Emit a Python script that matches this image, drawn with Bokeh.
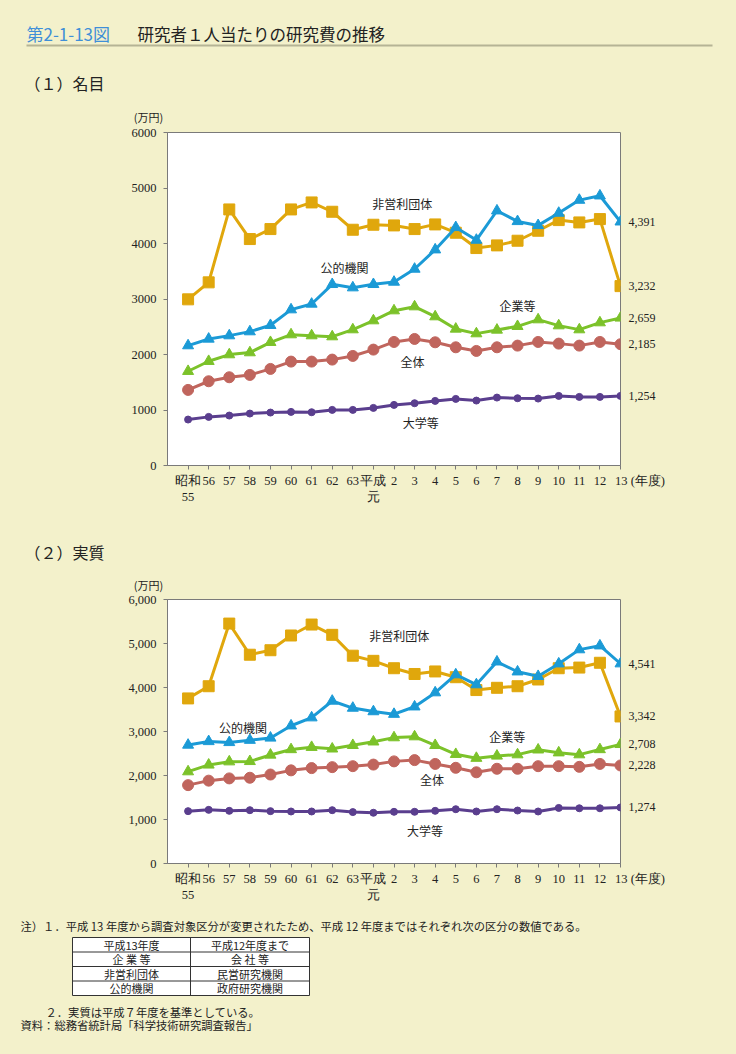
from bokeh.plotting import figure
from bokeh.layouts import column, row
from bokeh.models import Range1d, FixedTicker, NumeralTickFormatter, LinearAxis
from bokeh.core.properties import value
from bokeh.embed import file_html
from bokeh.resources import INLINE

# ---------------- data ----------------
years = ["昭和\n55", "56", "57", "58", "59", "60", "61", "62", "63", "平成\n元",
         "2", "3", "4", "5", "6", "7", "8", "9", "10", "11", "12", "13"]
unit_x = "(年度)"

# (1) 名目
zentai1 = [1362, 1518, 1590, 1632, 1740, 1872, 1872, 1908, 1974, 2088, 2226,
           2280, 2220, 2130, 2064, 2130, 2160, 2226, 2196, 2160, 2226, 2185]
kigyo1 = [1698, 1878, 1998, 2034, 2220, 2358, 2340, 2322, 2448, 2610, 2790,
          2862, 2682, 2460, 2376, 2442, 2508, 2628, 2520, 2448, 2574, 2659]
hieiri1 = [2994, 3300, 4614, 4080, 4260, 4614, 4740, 4572, 4248, 4338, 4326,
           4260, 4344, 4194, 3918, 3966, 4050, 4230, 4422, 4380, 4440, 3232]
koteki1 = [2160, 2280, 2340, 2412, 2526, 2808, 2910, 3264, 3204, 3264, 3306,
           3540, 3888, 4290, 4062, 4590, 4398, 4326, 4548, 4782, 4860, 4391]
daigaku1 = [828, 876, 900, 936, 954, 966, 960, 1002, 1002, 1038, 1092,
            1122, 1164, 1200, 1170, 1224, 1212, 1206, 1254, 1236, 1236, 1254]

# (2) 実質
zentai2 = [1781, 1883, 1934, 1949, 2022, 2117, 2168, 2190, 2212, 2248, 2321,
           2350, 2263, 2175, 2073, 2153, 2153, 2212, 2212, 2197, 2263, 2228]
kigyo2 = [2088, 2241, 2314, 2321, 2467, 2591, 2642, 2606, 2686, 2766, 2861,
          2883, 2686, 2482, 2394, 2445, 2474, 2584, 2518, 2474, 2591, 2708]
hieiri2 = [3752, 4029, 5453, 4745, 4847, 5182, 5431, 5197, 4723, 4606, 4438,
           4307, 4365, 4234, 3942, 3993, 4029, 4182, 4438, 4453, 4562, 3342]
koteki2 = [2693, 2774, 2752, 2803, 2854, 3131, 3314, 3693, 3533, 3453, 3394,
           3562, 3883, 4292, 4066, 4584, 4358, 4255, 4540, 4861, 4949, 4541]
daigaku2 = [1190, 1219, 1197, 1212, 1190, 1182, 1182, 1212, 1168, 1153, 1175,
            1175, 1197, 1234, 1182, 1234, 1204, 1182, 1263, 1255, 1255, 1274]

yticks = [0, 1000, 2000, 3000, 4000, 5000, 6000]
series_names = ["大学等", "全体", "企業等", "非営利団体", "公的機関"]
# label positions (x index, y value) for the series names
name_pos1 = [(11.3, 775), (10.9, 1873), (16.0, 2883), (10.4, 4720), (7.6, 3567)]
name_pos2 = [(11.5, 753), (11.85, 1911), (15.5, 2897), (10.25, 5174), (2.67, 3094)]

table_rows = [("平成13年度", "平成12年度まで"), ("企 業 等", "会 社 等"),
              ("非営利団体", "民営研究機関"), ("公的機関", "政府研究機関")]

# ---------------- style ----------------
W = 736
BG = "#f3f1cb"
JP = value("Noto Sans CJK JP")
SERIF = "Liberation Serif"
COLORS = ["#5a3e8e", "#c0655d", "#7cc22a", "#e0a70c", "#1b9ad6"]
MARKERS = ["circle", "circle", "triangle", "square", "triangle"]
MSIZE = [7, 11, 11, 11, 11]
GREY = "#7a7a7a"
INK = "#222222"
BGSTYLE = {"background-color": BG}


def canvas(h):
    f = figure(width=W, height=h, x_range=Range1d(0, W), y_range=Range1d(h, 0),
               x_axis_type=None, y_axis_type=None, output_backend="svg",
               toolbar_location=None, min_border=0)
    f.grid.visible = False
    f.outline_line_color = None
    f.background_fill_color = BG
    f.border_fill_color = BG
    f.styles = BGSTYLE
    return f


def txt(f, x, y, s, size="12px", color=INK, align="left", font=JP):
    f.text(x=[x], y=[y], text=[s], text_font=font, text_font_size=size,
           text_color=color, text_align=align, text_baseline="middle")


def chart(h, top, bottom, yfmt, data, name_pos):
    p = figure(width=W, height=h, x_range=Range1d(-1, 21), y_range=Range1d(0, 6000),
               output_backend="svg", toolbar_location=None,
               min_border_left=167, min_border_right=116,
               min_border_top=top, min_border_bottom=bottom)
    p.background_fill_color = "white"
    p.border_fill_color = BG
    p.styles = BGSTYLE
    p.outline_line_color = GREY
    p.outline_line_width = 1
    p.grid.visible = False
    xs = list(range(len(years)))
    for i, ys in enumerate(data):
        p.line(xs, ys, line_color=COLORS[i], line_width=3)
        p.scatter(xs, ys, marker=MARKERS[i], size=MSIZE[i], color=COLORS[i])
    labels = {i: years[i] for i in xs}
    # the unit "(年度)" sits right of the last tick label; pad left to keep "13" centred
    labels[xs[-1]] = "\u3000\u3000\u3000" + years[-1] + " " + unit_x
    p.xaxis.ticker = FixedTicker(ticks=xs)
    p.xaxis.major_label_overrides = labels
    p.yaxis.ticker = FixedTicker(ticks=yticks)
    p.yaxis.formatter = NumeralTickFormatter(format=yfmt)
    for ax in (p.xaxis, p.yaxis):
        ax.axis_line_color = GREY
        ax.major_tick_line_color = GREY
        ax.major_tick_out = 4
        ax.major_tick_in = 0
        ax.minor_tick_line_color = None
        ax.major_label_text_font = SERIF
        ax.major_label_text_font_size = "12.5px"
        ax.major_label_text_color = INK
    p.xaxis.major_label_standoff = 4
    p.yaxis.major_label_standoff = 7
    # end values on the right
    ends = [s[-1] for s in data]
    ra = LinearAxis(ticker=FixedTicker(ticks=ends),
                    formatter=NumeralTickFormatter(format="0,0"))
    ra.axis_line_color = None
    ra.major_tick_line_color = None
    ra.minor_tick_line_color = None
    ra.major_tick_out = 0
    ra.major_tick_in = 0
    ra.major_label_standoff = 8
    ra.major_label_text_font = SERIF
    ra.major_label_text_font_size = "12px"
    ra.major_label_text_color = INK
    p.add_layout(ra, "right")
    xs_n = [a for a, b in name_pos]
    ys_n = [b for a, b in name_pos]
    p.text(x=xs_n, y=ys_n, text=series_names, text_font=JP, text_font_size="12px",
           text_color=INK, text_align="center", text_baseline="middle")
    return p


# ---------------- header ----------------
head = canvas(126)
txt(head, 26, 33, "第2-1-13図", size="17px", color="#3f8fd8")
txt(head, 137, 33, "研究者１人当たりの研究費の推移", size="16.5px")
head.segment(x0=[26], y0=[45], x1=[712], y1=[45], line_color="#b5b495", line_width=2)
txt(head, 24, 82, "（１）名目", size="16px")
txt(head, 148, 116, "(万円)", size="11px", align="center")

data1 = [daigaku1, zentai1, kigyo1, hieiri1, koteki1]
p1 = chart(394, 6, 55, "0", data1, name_pos1)

MT = 520
mid = canvas(73)
txt(mid, 24, 551 - MT, "（２）実質", size="16px")
txt(mid, 148, 584 - MT, "(万円)", size="11px", align="center")

data2 = [daigaku2, zentai2, kigyo2, hieiri2, koteki2]
p2 = chart(312, 6, 32, "0,0", data2, name_pos2)

# ---------------- footer ----------------
FT = 905
foot = canvas(149)
txt(foot, 20, 925 - FT,
    "注）１．平成 13 年度から調査対象区分が変更されたため、平成 12 年度まではそれぞれ次の区分の数値である。",
    size="11.3px")
tl, tr, tm = 72, 309, 190
ttop, rowh = 937 - FT, 14.5
nrows = len(table_rows)
foot.quad(left=[tl], right=[tr], top=[ttop], bottom=[ttop + rowh * nrows],
          fill_color="white", line_color="#333333", line_width=1)
foot.segment(x0=[tm], y0=[ttop], x1=[tm], y1=[ttop + rowh * nrows],
             line_color="#333333", line_width=1)
for r in range(1, nrows):
    foot.segment(x0=[tl], y0=[ttop + rowh * r], x1=[tr], y1=[ttop + rowh * r],
                 line_color="#333333", line_width=1)
for r, (a, b) in enumerate(table_rows):
    yc = ttop + rowh * r + rowh / 2
    txt(foot, (tl + tm) / 2, yc, a, size="11px", align="center")
    txt(foot, (tm + tr) / 2, yc, b, size="11px", align="center")
txt(foot, 45, 1011 - FT, "２．実質は平成７年度を基準としている。", size="11.3px")
txt(foot, 20, 1024 - FT, "資料：総務省統計局「科学技術研究調査報告」", size="11.3px")

layout = column(row(head, styles=BGSTYLE), p1, row(mid, styles=BGSTYLE), p2,
                row(foot, styles=BGSTYLE), spacing=0, styles=BGSTYLE)
open("out.html", "w").write(file_html(layout, INLINE))
